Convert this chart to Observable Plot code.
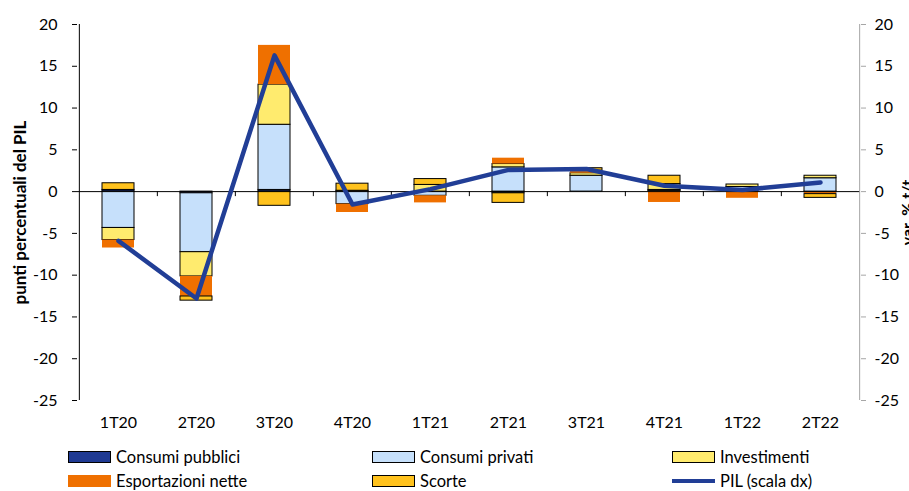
<!DOCTYPE html>
<html><head><meta charset="utf-8">
<script src="https://cdn.jsdelivr.net/npm/d3@7"></script>
<script src="https://cdn.jsdelivr.net/npm/@observablehq/plot@0.6"></script>
<style>
body{margin:0;background:#fff;overflow:hidden;font-family:Lato,"Open Sans",sans-serif;}
#wrap{position:relative;width:909px;height:491px;overflow:hidden;}
#legend .item{position:absolute;display:flex;align-items:center;font-size:16.5px;color:#000;white-space:nowrap;}
#legend .sw{width:43px;height:12px;border:1px solid #000;box-sizing:border-box;margin-right:5px;}
#legend .ln{width:43px;height:4px;margin-right:5px;}
</style></head><body>
<div id="wrap"><div id="chart"></div><div id="legend"></div></div>
<script>
const quarters = ["1T20","2T20","3T20","4T20","1T21","2T21","3T21","4T21","1T22","2T22"];
const seriesNames = ["Consumi pubblici","Consumi privati","Investimenti","Esportazioni nette","Scorte"];
const seriesColors = ["#1f3a93","#c6e0fb","#ffeb6e","#ef7000","#ffc21d"];
const consumiPubblici = [0.2,-0.2,0.2,0.1,0,-0.2,0,0.1,0,-0.1];
const consumiPrivati  = [-4.35,-7.05,7.8,-1.5,-0.5,2.9,1.9,0.1,0.55,1.6];
const investimenti    = [-1.45,-2.9,4.8,0,0.8,0.4,0.3,0.7,0.3,0.3];
const esportazioni    = [-0.95,-2.4,4.7,-1.0,-0.85,0.7,0.3,-1.3,-0.8,-0.2];
const scorte          = [0.8,-0.5,-1.7,0.85,0.7,-1.15,0.3,1.0,0,-0.45];
const pil             = [-5.9,-12.8,16.3,-1.55,0.3,2.6,2.7,0.7,0.2,1.1];
const yTicks = [-25,-20,-15,-10,-5,0,5,10,15,20];
const pilColor = "#213e96";

const seriesValues = [consumiPubblici,consumiPrivati,investimenti,esportazioni,scorte];
const table = [];
seriesNames.forEach((s,si)=>{
  quarters.forEach((q,qi)=>{
    const v = seriesValues[si][qi];
    if (v !== 0) table.push({q, s, v, border: s === "Esportazioni nette" ? 0 : 1});
  });
});
const pilTable = quarters.map((q,i)=>({q, v: pil[i]}));

const W=909, H=440, ML=77, MR=49, MT=24, MB=40;
const step = (W-ML-MR)/quarters.length;
const fmt = d => String(d);

const chart = Plot.plot({
  width: W, height: H,
  marginLeft: ML, marginRight: MR, marginTop: MT, marginBottom: MB,
  style: {fontFamily: "Lato, 'Open Sans', sans-serif", fontSize: "16px", background: "white", color: "#000"},
  x: {domain: quarters, paddingInner: 0.595, paddingOuter: 0.2975},
  y: {domain: [-25, 20]},
  color: {domain: seriesNames, range: seriesColors},
  opacity: {domain: [0,1], range: [0,1]},
  marks: [
    Plot.barY(table, Plot.stackY({x: "q", y: "v", fill: "s", stroke: "#000", strokeWidth: 1, strokeOpacity: "border", order: null})),
    Plot.ruleY([0], {stroke: "#000", strokeWidth: 1}),
    Plot.ruleX(quarters.slice(1), {x: d => d, dx: -step/2, y1: 0, y2: -0.6, stroke: "#000"}),
    Plot.ruleX([quarters[0]], {x: d => d, dx: -step/2, y1: -25, y2: 20, stroke: "#000"}),
    Plot.ruleX([quarters[quarters.length-1]], {x: d => d, dx: step/2, y1: -25, y2: 20, stroke: "#a6a6a6"}),
    Plot.axisY({anchor: "left", ticks: yTicks, tickFormat: fmt, tickSize: 5, tickPadding: 15, label: null, stroke: "#000", fontSize: 16}),
    Plot.axisY({anchor: "right", ticks: yTicks, tickFormat: fmt, tickSize: 5, tickPadding: 9, label: null, stroke: "#a6a6a6", fill: "#000", fontSize: 16}),
    Plot.axisX({anchor: "bottom", tickSize: 0, tickPadding: 16, label: null, fontSize: 16}),
    Plot.line(pilTable, {x: "q", y: "v", stroke: pilColor, strokeWidth: 4.5, strokeLinejoin: "round"}),
    Plot.text(["punti percentuali del PIL"], {text: d => d, frameAnchor: "left", dx: -57, rotate: -90, textAnchor: "middle", fontWeight: "bold", fontSize: 17}),
    Plot.text(["var. % t/t"], {text: d => d, frameAnchor: "right", dx: 52, rotate: -90, textAnchor: "middle", lineAnchor: "bottom", fontWeight: "bold", fontSize: 16})
  ]
});
document.getElementById("chart").appendChild(chart);

const legendItems = [
  {name: seriesNames[0], color: seriesColors[0], kind: "box", left: 68, top: 457},
  {name: seriesNames[1], color: seriesColors[1], kind: "box", left: 372, top: 457},
  {name: seriesNames[2], color: seriesColors[2], kind: "box", left: 672, top: 457},
  {name: seriesNames[3], color: seriesColors[3], kind: "box", left: 68, top: 481, noBorder: true},
  {name: seriesNames[4], color: seriesColors[4], kind: "box", left: 372, top: 481},
  {name: "PIL (scala dx)", color: pilColor, kind: "line", left: 672, top: 481}
];
const leg = document.getElementById("legend");
legendItems.forEach(it => {
  const d = document.createElement("div");
  d.className = "item";
  d.style.left = it.left + "px";
  d.style.top = (it.top - 10) + "px";
  d.style.height = "20px";
  const sw = document.createElement("span");
  sw.className = it.kind === "line" ? "ln" : "sw";
  sw.style.background = it.color;
  if (it.noBorder) sw.style.border = "1px solid " + it.color;
  d.appendChild(sw);
  const t = document.createElement("span");
  t.textContent = it.name;
  d.appendChild(t);
  leg.appendChild(d);
});
</script>
</body></html>
